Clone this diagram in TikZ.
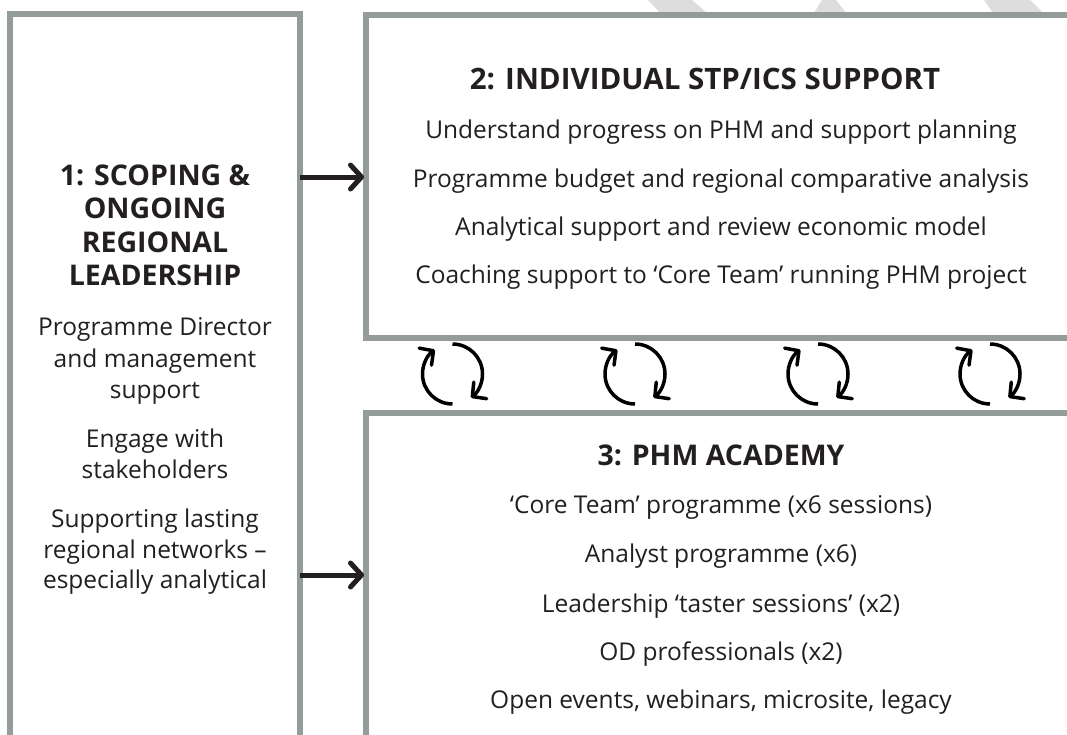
\documentclass[tikz,border=0pt]{standalone}
\usepackage{fontspec}
\setmainfont{Open Sans}
\usetikzlibrary{arrows.meta}
\definecolor{ink}{HTML}{231F20}
\definecolor{frame}{HTML}{949B9B}
\definecolor{wm}{HTML}{DDDDDD}
\begin{document}
\begin{tikzpicture}[x=1pt,y=-1pt,
  box/.style={draw=frame, line width=6pt, outer sep=0pt, inner sep=0pt, anchor=north west},
  body/.style={font=\fontsize{24.5}{30}\selectfont, text=ink, inner sep=0pt, anchor=base},
  ttl/.style={font=\bfseries\fontsize{28.5}{34}\selectfont, text=ink, inner sep=0pt, anchor=base},
  bigarrow/.style={draw=ink, line width=5pt, -{Straight Barb[round, length=11pt, width=24pt]}},
  cyc/.style={draw=black, line width=3.5pt, -{Straight Barb[round, length=10pt, width=21pt]}}]
\useasboundingbox (0,0) rectangle (1067,734);
\clip (0,0) rectangle (1067,734);
\fill[white] (0,0) rectangle (1067,734);
% faint watermark fragments
\fill[wm] (648,0) -- (692,0) -- (707,13) -- (660,13) -- cycle;
\fill[wm] (822,0) -- (836,0) -- (846,13) -- (814,13) -- cycle;
\fill[wm] (984,0) -- (1030,0) -- (1043,13) -- (993,13) -- cycle;
% boxes
\node[box, minimum width=290pt, minimum height=760pt] (box1) at (10,14) {};
\node[box, minimum width=760pt, minimum height=323.5pt] (box2) at (366,14.5) {};
\node[box, minimum width=760pt, minimum height=400pt] (box3) at (366,413) {};
% box 1 text
\node[ttl] (t1a) at (155,185) {1: SCOPING \&};
\node[ttl] (t1b) at (155,218) {ONGOING};
\node[ttl] (t1c) at (155,252) {REGIONAL};
\node[ttl] (t1d) at (155,285) {LEADERSHIP};
\node[body] (b1a) at (155,335) {Programme Director};
\node[body] (b1b) at (155,367) {and management};
\node[body] (b1c) at (155,398) {support};
\node[body] (b1d) at (155,447) {Engage with};
\node[body] (b1e) at (155,478) {stakeholders};
\node[body] (b1f) at (155,527) {Supporting lasting};
\node[body] (b1g) at (155,558) {regional networks –};
\node[body] (b1h) at (155,588) {especially analytical};
% box 2 text
\node[ttl, font=\bfseries\fontsize{29.5}{34}\selectfont] (t2) at (705,89) {2: INDIVIDUAL STP/ICS SUPPORT};
\node[body] (b2a) at (721,138) {Understand progress on PHM and support planning};
\node[body] (b2b) at (721,187) {Programme budget and regional comparative analysis};
\node[body] (b2c) at (721,235) {Analytical support and review economic model};
\node[body] (b2d) at (721,283) {Coaching support to ‘Core Team’ running PHM project};
% box 3 text
\node[ttl] (t3) at (721,465) {3: PHM ACADEMY};
\node[body] (b3a) at (721,513) {‘Core Team’ programme (x6 sessions)};
\node[body] (b3b) at (721,562) {Analyst programme (x6)};
\node[body] (b3c) at (721,612) {Leadership ‘taster sessions’ (x2)};
\node[body] (b3d) at (721,660) {OD professionals (x2)};
\node[body] (b3e) at (721,708) {Open events, webinars, microsite, legacy};
% connectors
\coordinate (a1) at (300,177);
\coordinate (a2) at (300,575);
\draw[bigarrow] (a1) -- ([xshift=-2pt]box2.west |- a1);
\draw[bigarrow] (a2) -- ([xshift=-2pt]box3.west |- a2);
% cycle icons
\foreach \cx [count=\i] in {452.5,635,818,990} {
  \coordinate (cyc\i) at (\cx,374);
  \draw[cyc] ([shift={(90:30pt)}]cyc\i) arc[start angle=90, end angle=-52, radius=30pt];
  \draw[cyc] ([shift={(270:30pt)}]cyc\i) arc[start angle=270, end angle=126, radius=30pt];
}
\end{tikzpicture}
\end{document}
